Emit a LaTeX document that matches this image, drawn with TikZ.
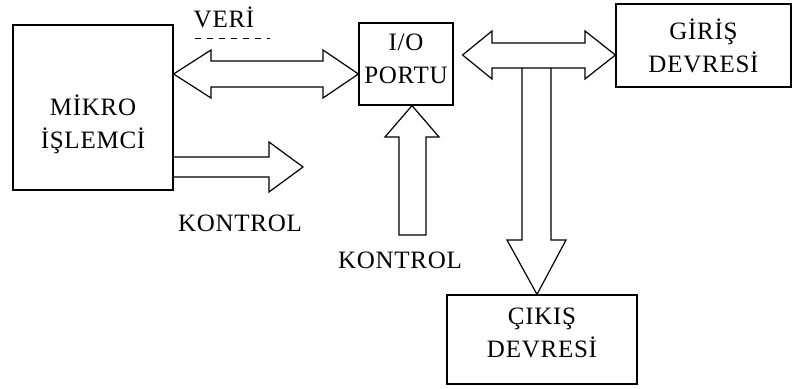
\documentclass[tikz,border=0pt]{standalone}
\usepackage{fontspec}
\setmainfont{Liberation Serif}[LetterSpace=3]
\usetikzlibrary{calc}
\tikzset{
  box/.style={draw, line width=0.6pt, inner sep=0pt},
  lbl/.style={font=\fontsize{12.5}{16.5}\selectfont, align=center, inner sep=0pt},
  bus/.style={draw, line width=0.6pt, line join=miter},
}

\begin{document}
\begin{tikzpicture}[x=0.5pt,y=-0.5pt]
  \useasboundingbox (0,0) rectangle (792,389);
  % blocks
  \node[box, minimum width=80pt, minimum height=82.5pt] (mikro) at (93,107.5) {};
  \node[box, minimum width=47pt, minimum height=41pt] (io) at (406,64) {};
  \node[box, minimum width=87.5pt, minimum height=41.5pt] (giris) at (703.5,45.5) {};
  \node[box, minimum width=95pt, minimum height=44.5pt] (cikis) at (542,339.5) {};
  \node[lbl] (mikrot) at ($(mikro)+(0,17)$) {MİKRO\\İŞLEMCİ};
  \node[lbl] (iot) at ($(io)+(0,-5)$) {I/O\\PORTU};
  \node[lbl] (girist) at (giris) {GİRİŞ\\DEVRESİ};
  \node[lbl] (cikist) at ($(cikis)+(0,-7)$) {ÇIKIŞ\\DEVRESİ};
  % data bus
  \draw[bus] (mikro.east |- 0,74) -- (211,50) -- (211,61) -- (323,61) -- (323,50)
    -- (io.west |- 0,74) -- (323,98) -- (323,87) -- (211,87) -- (211,98) -- cycle;
  \coordinate (busL) at ($(io.east |- 0,55)+(9,0)$);
  \draw[bus] (busL) -- (492,31) -- (492,43) -- (585,43) -- (585,31)
    -- (giris.west |- 0,55) -- (585,79) -- (585,68) -- (492,68) -- (492,79) -- cycle;
  \draw[bus] (522,68) -- (522,240) -- (507,240) -- (cikis.north -| 537,0)
    -- (566,240) -- (551,240) -- (551,68);
  % control
  \draw[bus] (mikro.east |- 0,157) -- (269,157) -- (269,142) -- (303,167)
    -- (269,192) -- (269,177) -- (mikro.east |- 0,177);
  \draw[bus] (io.south -| 412,0) -- (439,137) -- (426,137) -- (426,235)
    -- (399,235) -- (399,137) -- (385,137) -- cycle;
  % labels
  \node[lbl] (veri) at (224,17) {VERİ};
  \draw[dashed, line width=0.5pt] (195,39) -- (270,39);
  \node[lbl] (kontrolA) at (240,223) {KONTROL};
  \node[lbl] (kontrolB) at (400,260) {KONTROL};
\end{tikzpicture}
\end{document}
